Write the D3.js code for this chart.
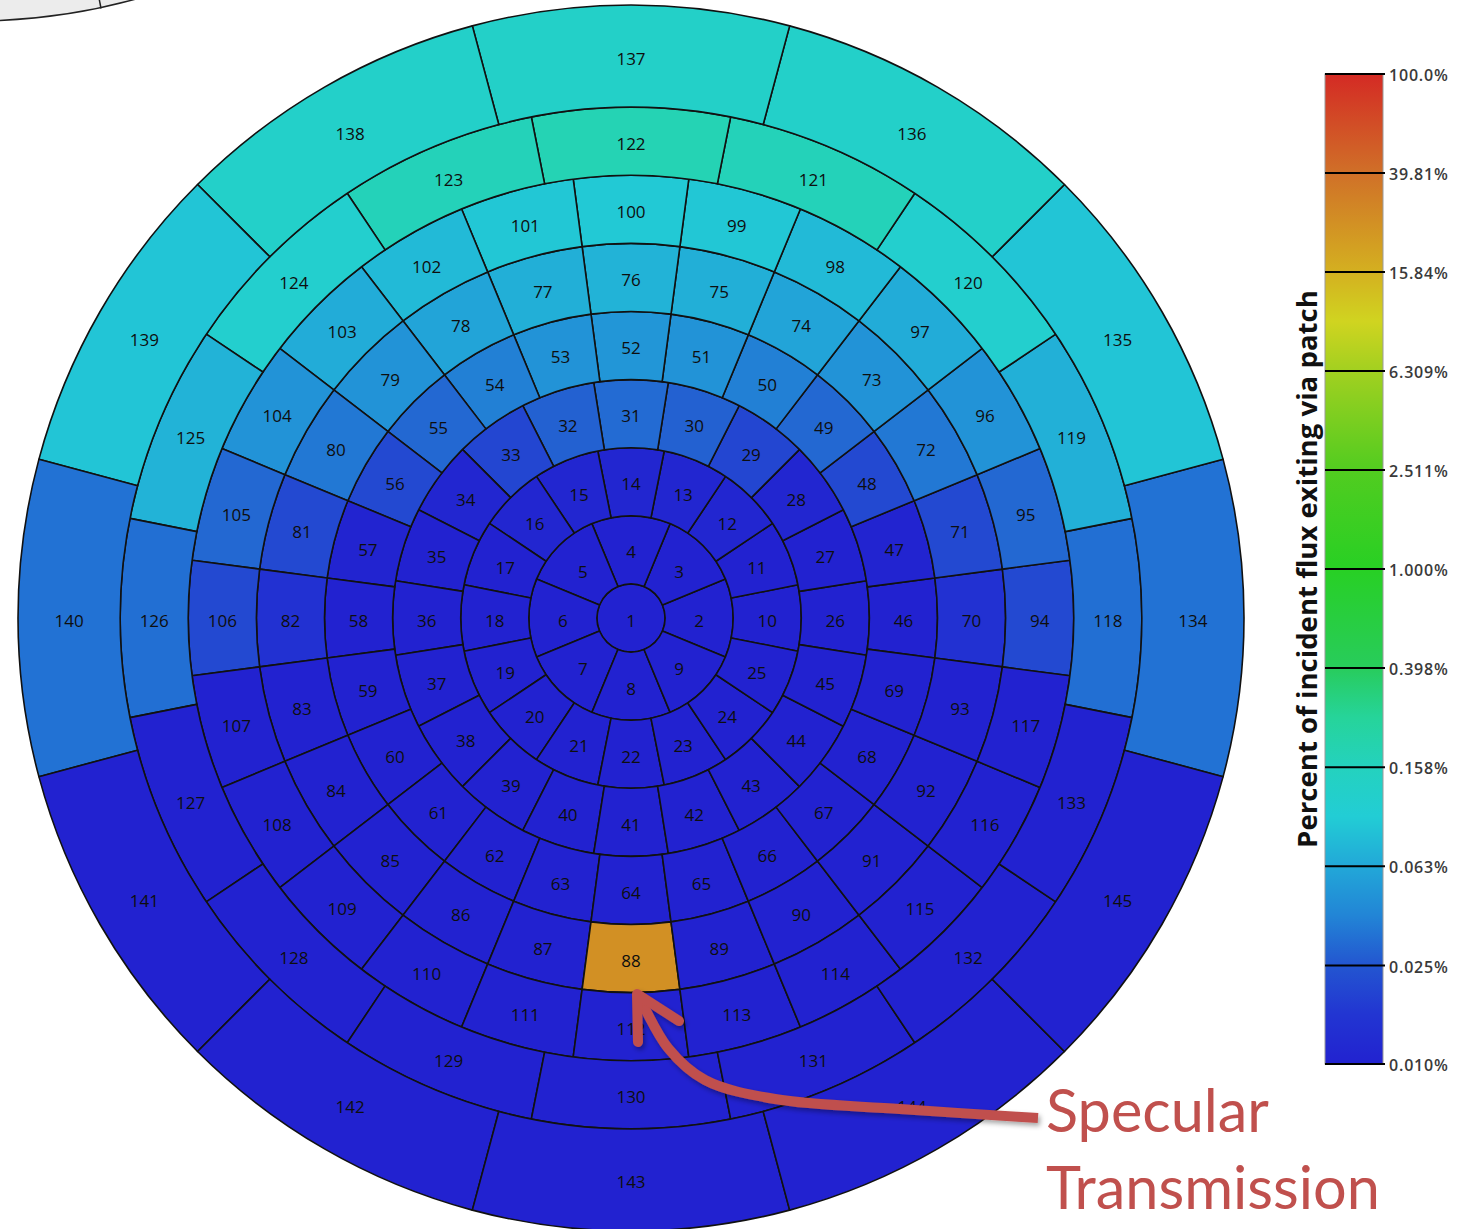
<!DOCTYPE html>
<html>
<head>
<meta charset="utf-8">
<script src="https://cdn.jsdelivr.net/npm/d3@7"></script>
<style>
  html, body { margin: 0; padding: 0; background: #fff; }
  svg { display: block; }
</style>
</head>
<body>
<svg id="chart" width="1471" height="1229"></svg>
<script>
// Klems full basis: polar-angle ring boundaries (degrees) and patches per ring
const thetaBounds = [0, 5, 15, 25, 35, 45, 55, 65, 75, 90];
const ringCounts = [1, 8, 16, 20, 24, 24, 24, 16, 12];

// Percent of incident flux exiting via each patch, ring by ring (patch 1 .. 145)
const ring1 = [0.010];
const ring2 = [0.010, 0.010, 0.010, 0.010, 0.010, 0.010, 0.010, 0.010];
const ring3 = [0.010, 0.010, 0.011, 0.011, 0.011, 0.011, 0.011, 0.010,
               0.010, 0.010, 0.010, 0.010, 0.010, 0.010, 0.010, 0.010];
const ring4 = [0.010, 0.010, 0.011, 0.020, 0.028, 0.031, 0.028, 0.020, 0.011, 0.010,
               0.010, 0.010, 0.010, 0.010, 0.010, 0.010, 0.010, 0.010, 0.010, 0.010];
const ring5 = [0.010, 0.0105, 0.021, 0.030, 0.038, 0.048, 0.050, 0.048, 0.038, 0.030, 0.021, 0.0105,
               0.010, 0.010, 0.010, 0.010, 0.010, 0.010, 0.010, 0.010, 0.010, 0.010, 0.010, 0.010];
const ring6 = [0.0145, 0.021, 0.035, 0.048, 0.060, 0.069, 0.072, 0.069, 0.060, 0.048, 0.035, 0.021,
               0.0145, 0.010, 0.010, 0.010, 0.010, 0.010, 25.1, 0.010, 0.010, 0.010, 0.010, 0.010];
const ring7 = [0.021, 0.030, 0.048, 0.066, 0.079, 0.093, 0.095, 0.093, 0.079, 0.066, 0.048, 0.030,
               0.021, 0.010, 0.010, 0.010, 0.010, 0.010, 0.010, 0.010, 0.010, 0.010, 0.010, 0.010];
const ring8 = [0.032, 0.070, 0.115, 0.170, 0.180, 0.170, 0.115, 0.072,
               0.032, 0.010, 0.010, 0.010, 0.010, 0.010, 0.010, 0.010];
const ring9 = [0.033, 0.090, 0.126, 0.130, 0.126, 0.090, 0.033, 0.010, 0.010, 0.010, 0.010, 0.010];
const ringValues = [ring1, ring2, ring3, ring4, ring5, ring6, ring7, ring8, ring9];

// Colour bar ticks
const colorbarTicks = [100, 39.81, 15.84, 6.309, 2.511, 1.0, 0.398, 0.158, 0.063, 0.025, 0.010];
const colorbarLabels = ["100.0%", "39.81%", "15.84%", "6.309%", "2.511%", "1.000%",
                        "0.398%", "0.158%", "0.063%", "0.025%", "0.010%"];

// Colour ramp: fraction along the log range and its colour
const rampStops  = [0, 0.05, 0.1, 0.15, 0.2, 0.25, 0.3, 0.35, 0.4, 0.5, 0.6, 0.7, 0.75, 0.8, 0.9, 1];
const rampColors = ["#2222d0", "#2235d2", "#2356d0", "#2285d6", "#22a8d8", "#22cdd5", "#24d2be",
                    "#26d49a", "#28cc5c", "#28d024", "#52cc20", "#a2d020", "#d0d420", "#d4b020",
                    "#d07028", "#d42a24"];

const titleText = "Percent of incident flux exiting via patch";
const noteLines = ["Specular", "Transmission"];

// ---------------------------------------------------------------------------
const svg = d3.select("#chart");
const cx = 631, cy = 618, R = 613;

const rScale = d3.scaleLinear().domain([0, 90]).range([0, R]);
const logPos = d3.scaleLog().domain([0.01, 100]).range([0, 1]).clamp(true);
const ramp = d3.scaleLinear().domain(rampStops).range(rampColors).interpolate(d3.interpolateRgb);
const colorOf = v => ramp(logPos(v));

// Neighbouring polar plot partly visible in the corner
const corner = svg.append("g");
corner.append("circle")
  .attr("cx", -27).attr("cy", -592).attr("r", R)
  .attr("fill", "#ececec").attr("stroke", "#222").attr("stroke-width", 1.5);
corner.append("line")
  .attr("x1", 101).attr("y1", 8.5).attr("x2", 99).attr("y2", -2)
  .attr("stroke", "#222").attr("stroke-width", 1.5);

// Build patch records
const patches = [];
let id = 1;
ringCounts.forEach((n, ri) => {
  const t0 = thetaBounds[ri], t1 = thetaBounds[ri + 1];
  for (let j = 0; j < n; j++) {
    const phi = j * 360 / n;            // counter-clockwise from +x
    const half = 180 / n;
    patches.push({
      id: id++,
      ring: ri,
      value: ringValues[ri][j],
      inner: rScale(t0),
      outer: rScale(t1),
      phi: phi,
      start: (90 - phi - half) * Math.PI / 180,
      end: (90 - phi + half) * Math.PI / 180,
      full: n === 1
    });
  }
});

const arc = d3.arc();
const plot = svg.append("g").attr("transform", `translate(${cx},${cy})`);

plot.selectAll("path.patch")
  .data(patches)
  .join("path")
  .attr("class", "patch")
  .attr("d", d => arc({
    innerRadius: d.inner,
    outerRadius: d.outer,
    startAngle: d.full ? 0 : d.start,
    endAngle: d.full ? 2 * Math.PI : d.end
  }))
  .attr("fill", d => colorOf(d.value))
  .attr("stroke", "#111")
  .attr("stroke-width", 1.6)
  .attr("stroke-linejoin", "round");

plot.selectAll("text.plabel")
  .data(patches)
  .join("text")
  .attr("class", "plabel")
  .attr("x", d => d.full ? 0 : ((d.inner + d.outer) / 2) * Math.cos(d.phi * Math.PI / 180))
  .attr("y", d => (d.full ? 0 : -((d.inner + d.outer) / 2) * Math.sin(d.phi * Math.PI / 180)) + 2)
  .attr("text-anchor", "middle")
  .attr("dominant-baseline", "central")
  .attr("font-family", "'Open Sans', 'DejaVu Sans', sans-serif")
  .attr("font-size", 17)
  .attr("fill", "#0e0e0e")
  .text(d => d.id);

// ---------------------------------------------------------------------------
// Colour bar
const barX = 1325, barW = 58, barTop = 74, barBottom = 1064;
const barScale = d3.scaleLog().domain([0.01, 100]).range([barBottom, barTop]);

const defs = svg.append("defs");
const grad = defs.append("linearGradient")
  .attr("id", "ramp").attr("x1", 0).attr("y1", 1).attr("x2", 0).attr("y2", 0);
grad.selectAll("stop")
  .data(rampStops)
  .join("stop")
  .attr("offset", d => d)
  .attr("stop-color", (d, i) => rampColors[i]);

svg.append("rect")
  .attr("x", barX).attr("y", barTop)
  .attr("width", barW).attr("height", barBottom - barTop)
  .attr("fill", "url(#ramp)")
  .attr("stroke", "#9a9a9a").attr("stroke-width", 1);

const tickG = svg.append("g");
tickG.selectAll("line")
  .data(colorbarTicks)
  .join("line")
  .attr("x1", barX).attr("x2", barX + barW + 2)
  .attr("y1", d => barScale(d)).attr("y2", d => barScale(d))
  .attr("stroke", "#000").attr("stroke-width", 2);

tickG.selectAll("text")
  .data(colorbarTicks)
  .join("text")
  .attr("x", barX + barW + 6)
  .attr("y", d => barScale(d) + 1)
  .attr("dominant-baseline", "central")
  .attr("font-family", "'Open Sans', 'DejaVu Sans', sans-serif")
  .attr("font-size", 16)
  .attr("font-weight", 600)
  .attr("letter-spacing", 0.8)
  .attr("fill", "#3a3a3a")
  .text((d, i) => colorbarLabels[i]);

// Colour bar title, sized to its span
const title = svg.append("text")
  .attr("transform", `translate(1306,569) rotate(-90)`)
  .attr("text-anchor", "middle")
  .attr("dominant-baseline", "central")
  .attr("font-family", "'Open Sans', 'DejaVu Sans', sans-serif")
  .attr("font-weight", "bold")
  .attr("font-size", 24)
  .attr("fill", "#111")
  .text(titleText);
{
  const w = title.node().getComputedTextLength();
  title.attr("font-size", 24 * 558 / w);
}

// ---------------------------------------------------------------------------
// Annotation arrow pointing at the specular patch
const shadow = defs.append("filter").attr("id", "shadow")
  .attr("x", "-20%").attr("y", "-20%").attr("width", "140%").attr("height", "140%");
shadow.append("feDropShadow")
  .attr("dx", 2).attr("dy", 3).attr("stdDeviation", 2.5)
  .attr("flood-color", "#000").attr("flood-opacity", 0.35);

const noteColor = "#c0504d";
const arrowG = svg.append("g").attr("filter", "url(#shadow)");
const shaftPts = [[1038, 1118], [900, 1109], [775, 1099], [705, 1080], [668, 1048], [639, 996]];
arrowG.append("path")
  .attr("d", d3.line().curve(d3.curveCatmullRom.alpha(0.5))(shaftPts))
  .attr("fill", "none")
  .attr("stroke", noteColor)
  .attr("stroke-width", 10)
  .attr("stroke-linecap", "butt");
arrowG.append("path")
  .attr("d", "M638,1042 L637,994 L679,1021")
  .attr("fill", "none")
  .attr("stroke", noteColor)
  .attr("stroke-width", 10)
  .attr("stroke-linecap", "round")
  .attr("stroke-linejoin", "round");

// Annotation text
const note = svg.append("g")
  .attr("font-family", "Lato, 'Open Sans', sans-serif")
  .attr("fill", noteColor);
const line1 = note.append("text").attr("x", 1046).attr("y", 1132).attr("font-size", 56).text(noteLines[0]);
const line2 = note.append("text").attr("x", 1046).attr("y", 1209).attr("font-size", 56).text(noteLines[1]);
{
  const w = line2.node().getComputedTextLength();
  const fs = 56 * 334 / w;
  line1.attr("font-size", fs);
  line2.attr("font-size", fs);
}
</script>
</body>
</html>
